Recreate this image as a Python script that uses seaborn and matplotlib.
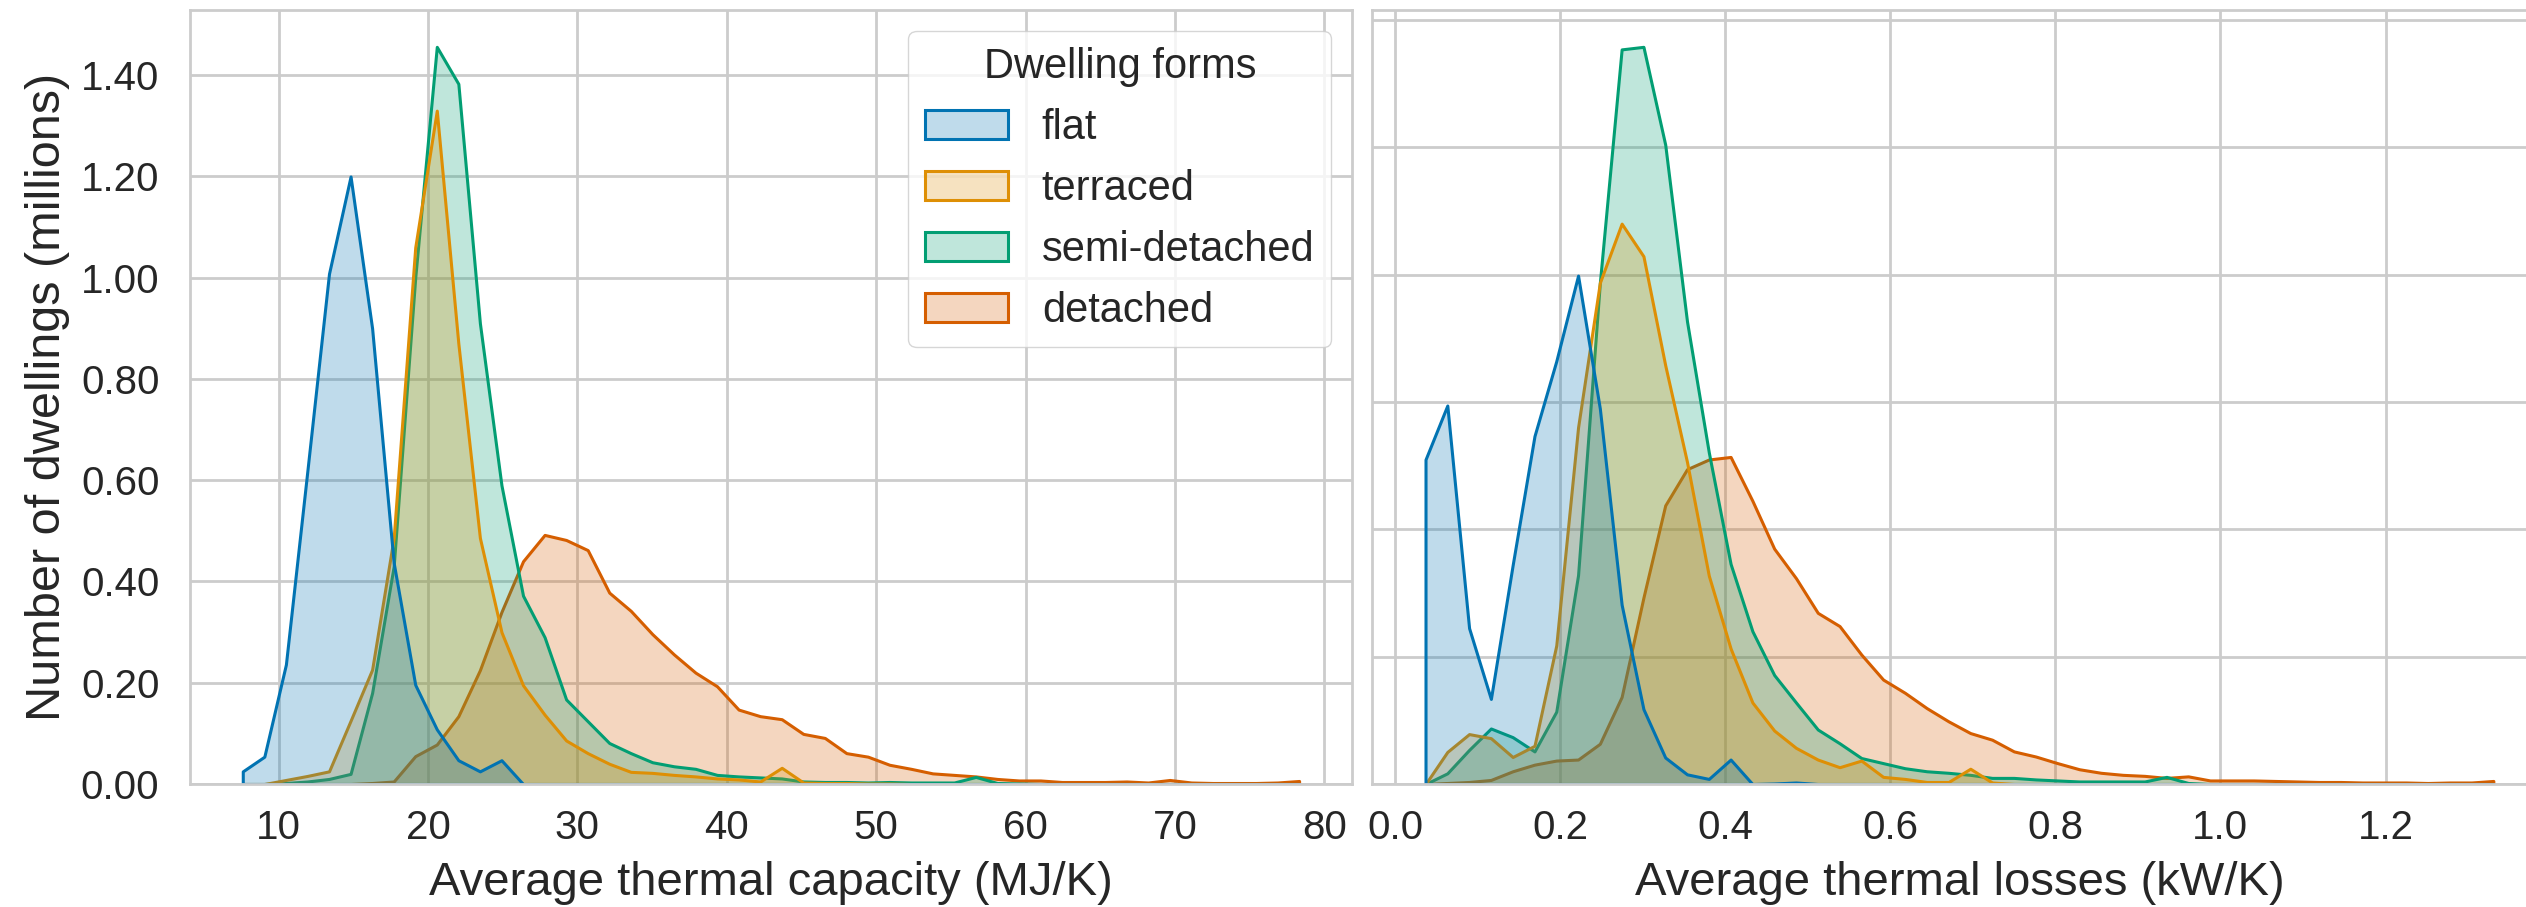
import numpy as np
import pandas as pd
import matplotlib
matplotlib.use("Agg")
import matplotlib.pyplot as plt
import matplotlib.ticker as mticker
import seaborn as sns

# dwelling forms, in legend order
forms = ["flat", "terraced", "semi-detached", "detached"]

# thermal capacity histogram: 50 common bins over (6.88, 79.03) MJ/K, counts in millions
cap_range = (6.88, 79.03)
cap_flat = [0.025, 0.054, 0.236, 0.62, 1.008, 1.20, 0.90, 0.437, 0.196, 0.108,
            0.047, 0.025, 0.047, 0.0, 0.0, 0.0, 0.0, 0.0, 0.0, 0.0,
            0.0, 0.0, 0.0, 0.0, 0.0, 0.0, 0.0, 0.0, 0.0, 0.0,
            0.0, 0.0, 0.0, 0.0, 0.0, 0.0, 0.0, 0.0, 0.0, 0.0,
            0.0, 0.0, 0.0, 0.0, 0.0, 0.0, 0.0, 0.0, 0.0, 0.0]
cap_terraced = [0.0, 0.0, 0.008, 0.016, 0.025, 0.125, 0.226, 0.486, 1.06, 1.33,
                0.87, 0.486, 0.30, 0.195, 0.137, 0.086, 0.061, 0.040, 0.024, 0.022,
                0.018, 0.015, 0.011, 0.009, 0.005, 0.032, 0.003, 0.002, 0.002, 0.001,
                0.001, 0.0, 0.0, 0.0, 0.0, 0.0, 0.0, 0.0, 0.0, 0.0,
                0.0, 0.0, 0.0, 0.0, 0.0, 0.0, 0.0, 0.0, 0.0, 0.0]
cap_semi = [0.0, 0.0, 0.002, 0.005, 0.010, 0.020, 0.18, 0.43, 1.0, 1.456,
            1.383, 0.91, 0.59, 0.372, 0.29, 0.167, 0.124, 0.081, 0.061, 0.043,
            0.035, 0.030, 0.018, 0.015, 0.013, 0.011, 0.005, 0.004, 0.004, 0.003,
            0.004, 0.003, 0.003, 0.003, 0.014, 0.002, 0.001, 0.0, 0.0, 0.0,
            0.0, 0.0, 0.0, 0.0, 0.0, 0.0, 0.0, 0.0, 0.0, 0.0]
cap_detached = [0.0, 0.0, 0.0, 0.0, 0.0, 0.0, 0.002, 0.005, 0.055, 0.078,
                0.134, 0.225, 0.34, 0.44, 0.492, 0.482, 0.462, 0.378, 0.342, 0.296,
                0.256, 0.220, 0.193, 0.147, 0.134, 0.128, 0.099, 0.091, 0.061, 0.054,
                0.038, 0.030, 0.021, 0.018, 0.015, 0.010, 0.007, 0.007, 0.004, 0.004,
                0.004, 0.005, 0.003, 0.008, 0.003, 0.002, 0.002, 0.002, 0.003, 0.006]

# thermal losses histogram: 50 common bins over (0.0238, 1.3438) kW/K
loss_range = (0.0238, 1.3438)
loss_flat = [0.637, 0.743, 0.306, 0.167, 0.43, 0.683, 0.83, 0.998, 0.737, 0.352,
             0.147, 0.052, 0.019, 0.010, 0.048, 0.0, 0.001, 0.003, 0.0, 0.0,
             0.0, 0.0, 0.0, 0.0, 0.0, 0.0, 0.0, 0.0, 0.0, 0.0,
             0.0, 0.0, 0.0, 0.0, 0.0, 0.0, 0.0, 0.0, 0.0, 0.0,
             0.0, 0.0, 0.0, 0.0, 0.0, 0.0, 0.0, 0.0, 0.0, 0.0]
loss_terraced = [0.0, 0.063, 0.098, 0.090, 0.053, 0.075, 0.272, 0.70, 0.984, 1.10,
                 1.036, 0.822, 0.632, 0.409, 0.266, 0.16, 0.105, 0.071, 0.048, 0.033,
                 0.046, 0.014, 0.010, 0.004, 0.004, 0.030, 0.003, 0.0, 0.0, 0.0,
                 0.0, 0.0, 0.0, 0.0, 0.0, 0.0, 0.0, 0.0, 0.0, 0.0,
                 0.0, 0.0, 0.0, 0.0, 0.0, 0.0, 0.0, 0.0, 0.0, 0.0]
loss_semi = [0.0, 0.021, 0.067, 0.109, 0.092, 0.064, 0.142, 0.41, 0.984, 1.442,
             1.447, 1.255, 0.908, 0.651, 0.432, 0.30, 0.214, 0.16, 0.107, 0.080,
             0.051, 0.041, 0.031, 0.025, 0.022, 0.018, 0.012, 0.012, 0.009, 0.007,
             0.005, 0.005, 0.005, 0.005, 0.014, 0.002, 0.0, 0.0, 0.0, 0.0,
             0.0, 0.0, 0.0, 0.0, 0.0, 0.0, 0.0, 0.0, 0.0, 0.0]
loss_detached = [0.0, 0.002, 0.004, 0.008, 0.025, 0.038, 0.046, 0.048, 0.079, 0.171,
                 0.366, 0.547, 0.618, 0.637, 0.642, 0.556, 0.462, 0.404, 0.336, 0.310,
                 0.254, 0.205, 0.179, 0.149, 0.123, 0.100, 0.087, 0.064, 0.054, 0.041,
                 0.029, 0.022, 0.018, 0.016, 0.012, 0.015, 0.007, 0.007, 0.007, 0.006,
                 0.005, 0.004, 0.004, 0.003, 0.003, 0.003, 0.002, 0.003, 0.003, 0.006]


def bin_table(value_range, counts_by_form):
    # one row per (bin, form): value at the bin centre, weighted by its count
    edges = np.histogram_bin_edges([], bins=len(counts_by_form[0]), range=value_range)
    centres = (edges[:-1] + edges[1:]) / 2
    frames = []
    for form, counts in zip(forms, counts_by_form):
        frames.append(pd.DataFrame({"value": centres, "count": counts, "Dwelling forms": form}))
    return pd.concat(frames, ignore_index=True)


cap_df = bin_table(cap_range, [cap_flat, cap_terraced, cap_semi, cap_detached])
loss_df = bin_table(loss_range, [loss_flat, loss_terraced, loss_semi, loss_detached])

sns.set_theme(style="whitegrid")
plt.rcParams["font.family"] = ["Liberation Sans", "DejaVu Sans"]
plt.rcParams["grid.linewidth"] = 2.0
plt.rcParams["axes.linewidth"] = 2.0

fig = plt.figure(figsize=(25.26, 9.07), dpi=100)
ax1 = fig.add_axes([0.0752, 0.1356, 0.4600, 0.8534])
ax2 = fig.add_axes([0.5432, 0.1356, 0.4650, 0.8534])

sns.histplot(data=cap_df, x="value", weights="count", hue="Dwelling forms",
             hue_order=forms, bins=50, binrange=cap_range, element="poly",
             palette="colorblind", linewidth=2.2, ax=ax1)
sns.histplot(data=loss_df, x="value", weights="count", hue="Dwelling forms",
             hue_order=forms, bins=50, binrange=loss_range, element="poly",
             palette="colorblind", linewidth=2.2, legend=False, ax=ax2)

# left panel
ax1.set_xlabel("Average thermal capacity (MJ/K)", fontsize=34, labelpad=10)
ax1.set_ylabel("Number of dwellings (millions)", fontsize=35, labelpad=8)
ax1.xaxis.set_major_locator(mticker.MultipleLocator(10))
ax1.yaxis.set_major_locator(mticker.MultipleLocator(0.2))
ax1.yaxis.set_major_formatter(mticker.FormatStrFormatter("%.2f"))
ax1.tick_params(axis="x", labelsize=29, pad=12)
ax1.tick_params(axis="y", labelsize=29, pad=16)

# right panel, same count scale but labels hidden
ax2.set_xlabel("Average thermal losses (kW/K)", fontsize=34, labelpad=10)
ax2.set_ylabel("")
ax2.yaxis.set_major_locator(mticker.MultipleLocator(0.25))
ax2.tick_params(axis="x", labelsize=29, pad=12)
ax2.tick_params(axis="y", labelleft=False)

sns.move_legend(ax1, "upper right", title="Dwelling forms", fontsize=30,
                title_fontsize=30, frameon=True)

fig.savefig("out.png", dpi=100)
